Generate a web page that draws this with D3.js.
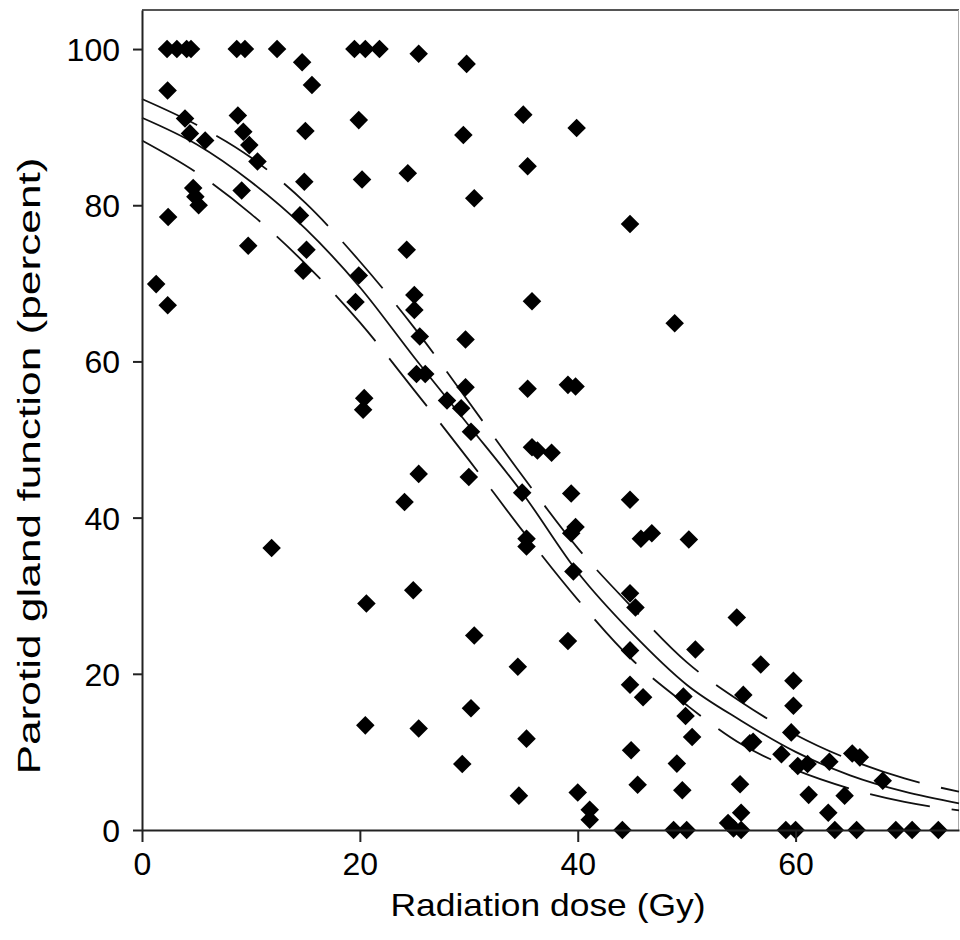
<!DOCTYPE html>
<html>
<head>
<meta charset="utf-8">
<script src="https://cdn.jsdelivr.net/npm/d3@7"></script>
<style>
  body { margin: 0; background: #fff; }
  svg { display: block; }
  .axis text { font-family: "Liberation Sans", Arial, sans-serif; font-size: 32px; fill: #000; }
  .axis line, .axis path { stroke: #222; stroke-width: 2; }
  .label { font-family: "Liberation Sans", Arial, sans-serif; font-size: 32px; fill: #000; }
</style>
</head>
<body>
<div id="chart"></div>
<script>
// scatter: radiation dose (Gy) and parotid gland function (%)
const doseGy = [
  2.3, 3.2, 4.1, 4.5, 8.7, 9.45, 12.4, 19.5, 20.5, 21.8,
  14.7, 15.6, 25.4, 29.8,
  2.35, 3.95, 4.4, 5.8, 8.8, 9.3, 9.85, 10.6, 15.0, 19.9, 14.9, 20.2, 24.4,
  4.7, 4.9, 5.2, 9.15, 2.4, 14.5, 9.75, 15.1, 14.8, 19.9, 24.3, 1.3, 2.36,
  19.6, 25.0, 25.0, 20.4, 20.3, 24.1, 11.9,
  35.8, 48.9, 25.5, 29.7, 25.2, 26.0, 29.7, 35.4, 39.1, 39.8, 28.0, 29.3, 30.2,
  35.8, 36.3, 37.6, 25.4, 30.0, 34.9, 39.4, 44.8, 39.4, 39.8, 35.3, 35.3,
  45.8, 46.8, 50.2, 44.8,
  35.0, 39.9, 29.5, 35.4, 30.5,
  20.6, 24.9, 20.5, 25.4,
  30.5, 34.5, 39.1, 39.6, 44.8, 45.3, 44.8, 44.8, 46.0, 30.2, 35.3, 29.4,
  34.6, 40.0, 41.1, 41.1, 44.9, 45.5,
  54.6, 50.8, 56.8, 59.8, 59.8, 55.2, 49.7, 49.9, 50.5, 59.6, 55.8, 56.1,
  58.7, 60.2, 61.1, 63.1, 65.2, 65.9, 68.0, 49.1, 49.6, 54.9, 55.0, 61.2,
  64.5, 63.0,
  44.1, 48.8, 50.0, 53.8, 54.3, 55.0, 59.1, 60.0, 63.6, 65.6, 69.2, 70.7, 73.1
];
const glandPct = [
  100, 100, 100, 100, 100, 100, 100, 100, 100, 100,
  98.3, 95.4, 99.4, 98.1,
  94.7, 91.1, 89.2, 88.3, 91.5, 89.4, 87.7, 85.6, 89.5, 90.9, 83.0, 83.3, 84.1,
  82.2, 81.1, 80.0, 81.9, 78.5, 78.7, 74.8, 74.3, 71.6, 71.0, 74.3, 69.9, 67.2,
  67.6, 68.5, 66.6, 55.3, 53.8, 42.0, 36.1,
  67.7, 64.9, 63.2, 62.8, 58.4, 58.4, 56.7, 56.5, 57.0, 56.8, 55.0, 54.0, 51.0,
  49.0, 48.6, 48.3, 45.6, 45.2, 43.2, 43.1, 42.3, 38.0, 38.8, 37.3, 36.3,
  37.3, 38.0, 37.2, 77.6,
  91.6, 89.9, 89.0, 85.0, 80.9,
  29.0, 30.7, 13.4, 13.0,
  24.9, 20.9, 24.2, 33.1, 30.3, 28.5, 23.0, 18.6, 17.0, 15.6, 11.7, 8.45,
  4.4, 4.8, 2.6, 1.3, 10.2, 5.8,
  27.2, 23.1, 21.2, 19.1, 15.9, 17.3, 17.1, 14.6, 11.9, 12.5, 11.1, 11.3,
  9.7, 8.2, 8.45, 8.75, 9.8, 9.3, 6.3, 8.5, 5.1, 5.85, 2.2, 4.5,
  4.4, 2.2,
  0, 0, 0, 0.9, 0.2, 0, 0, 0, 0, 0, 0, 0, 0
];

// fitted curve and its confidence band, every 5 Gy
const curveDose = [0, 5, 10, 15, 20, 25, 30, 35, 40, 45, 50, 55, 60, 65, 70, 75];
const fitMid   = [91.2, 87.8, 83.0, 77.0, 69.5, 60.5, 51.8, 43.0, 33.0, 25.2, 18.6, 14.0, 10.0, 7.0, 4.9, 3.4];
const fitUpper = [93.6, 90.3, 86.1, 80.3, 72.8, 64.3, 54.8, 45.2, 36.1, 28.5, 21.5, 16.4, 12.2, 9.0, 6.6, 4.9];
const fitLower = [88.3, 84.2, 78.9, 72.5, 65.0, 56.3, 47.4, 38.2, 29.5, 21.8, 16.0, 11.0, 7.7, 5.3, 3.6, 2.5];

const xTicks = [0, 20, 40, 60];
const yTicks = [0, 20, 40, 60, 80, 100];

const width = 960, height = 940;
const margin = {top: 10, right: 1, bottom: 110, left: 142};

const svg = d3.select("#chart").append("svg")
  .attr("width", width)
  .attr("height", height);

const xScale = d3.scaleLinear().domain([0, 75]).range([margin.left, width - margin.right]);
const yScale = d3.scaleLinear().domain([0, 105]).range([height - margin.bottom, margin.top]);

// frame (top and right sides)
svg.append("line")
  .attr("x1", xScale(0)).attr("x2", xScale(75))
  .attr("y1", yScale(105)).attr("y2", yScale(105))
  .attr("stroke", "#555").attr("stroke-width", 2);
svg.append("line")
  .attr("x1", xScale(75) - 0.5).attr("x2", xScale(75) - 0.5)
  .attr("y1", yScale(105)).attr("y2", yScale(0))
  .attr("stroke", "#aaa").attr("stroke-width", 1);

// curves
const line = (vals) => d3.line()
  .x((d, i) => xScale(curveDose[i]))
  .y(d => yScale(d))
  .curve(d3.curveMonotoneX)(vals);

svg.append("path").attr("d", line(fitMid))
  .attr("fill", "none").attr("stroke", "#111").attr("stroke-width", 1.8);
[fitUpper, fitLower].forEach(vals => {
  svg.append("path").attr("d", line(vals))
    .attr("fill", "none").attr("stroke", "#111").attr("stroke-width", 1.8)
    .attr("stroke-dasharray", "61,22");
});

// points
const diamond = d3.symbol().type(d3.symbolSquare).size(172);
svg.append("g")
  .selectAll("path")
  .data(doseGy.map((d, i) => [d, glandPct[i]]))
  .join("path")
    .attr("d", diamond)
    .attr("transform", d => `translate(${xScale(d[0])},${yScale(d[1])}) rotate(45)`)
    .attr("fill", "#000");

// axes
const xAxis = d3.axisBottom(xScale).tickValues(xTicks).tickSize(12).tickSizeOuter(0).tickPadding(10);
const yAxis = d3.axisLeft(yScale).tickValues(yTicks).tickSize(9).tickSizeOuter(0).tickPadding(13);

svg.append("g")
  .attr("class", "axis x-axis")
  .attr("transform", `translate(0,${yScale(0)})`)
  .call(xAxis);

svg.append("g")
  .attr("class", "axis y-axis")
  .attr("transform", `translate(${xScale(0)},0)`)
  .call(yAxis);

svg.selectAll(".x-axis .tick text").attr("dy", "0.71em");
svg.selectAll(".y-axis .tick text").attr("dy", "0.36em");

// labels (glyphs in the original are stretched along the text direction)
svg.append("text")
  .attr("class", "label")
  .attr("x", 548)
  .attr("y", 916)
  .attr("text-anchor", "middle")
  .attr("textLength", 315)
  .attr("lengthAdjust", "spacingAndGlyphs")
  .text("Radiation dose (Gy)");

svg.append("text")
  .attr("class", "label")
  .attr("transform", "translate(40,466) rotate(-90)")
  .attr("text-anchor", "middle")
  .attr("textLength", 617)
  .attr("lengthAdjust", "spacingAndGlyphs")
  .text("Parotid gland function (percent)");
</script>
</body>
</html>
